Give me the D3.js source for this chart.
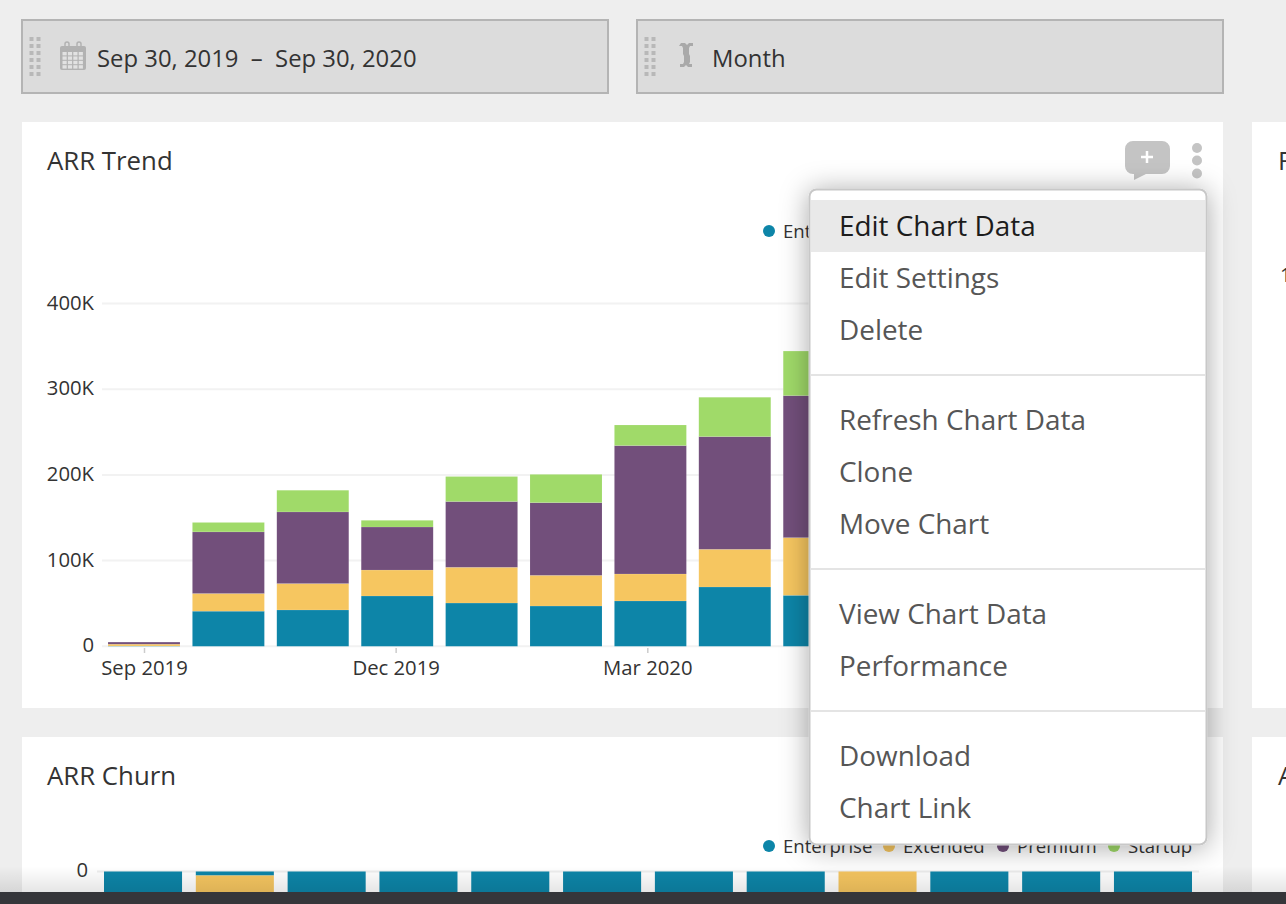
<!DOCTYPE html>
<html>
<head>
<meta charset="utf-8">
<script src="https://cdn.jsdelivr.net/npm/d3@7/dist/d3.min.js"></script>
<style>
html, body { margin: 0; padding: 0; background: #eeeeee; overflow: hidden; }
svg { display: block; }
text { font-family: "Open Sans", sans-serif; }
</style>
</head>
<body>
<script>
var width = 1286, height = 904;

// ARR Trend, values in thousands. Bars after May 2020 sit behind the open menu
var months = ["Sep 2019", "Oct 2019", "Nov 2019", "Dec 2019", "Jan 2020", "Feb 2020", "Mar 2020", "Apr 2020", "May 2020", "Jun 2020", "Jul 2020", "Aug 2020", "Sep 2020"];
var trendMonths = months.slice(0, 9);
var enterprise = [0.3, 41, 42.4, 58.7, 50.5, 47, 52.9, 69.2, 59.5];
var extended = [2.2, 20.6, 30.8, 30.3, 41.7, 35.8, 31.5, 44, 67.3];
var premium = [2.4, 71.9, 83.6, 50.2, 76.7, 84.8, 149.8, 131.5, 165.7];
var startup = [0, 11, 25.3, 7.8, 29.2, 33, 24, 45.9, 52];
var yTicks = [0, 100, 200, 300, 400];
var xTicks = ["Sep 2019", "Dec 2019", "Mar 2020"];

// ARR Churn, cut off by the bottom bar: only the top of each bar can be read
var churnMonths = months.slice(1);
var churnEnterprise = [-25, -4.7, -25, -25, -25, -25, -25, -25, 0, -25, -25, -25];
var churnExtended = [0, -20.3, 0, 0, 0, 0, 0, 0, -25, 0, 0, 0];

var seriesNames = ["Enterprise", "Extended", "Premium", "Startup"];
var seriesColors = ["#0d85a8", "#f6c660", "#724f7b", "#a0da69"];
var legendX = [769, 889, 1003, 1114];

var menuGroups = [
	["Edit Chart Data", "Edit Settings", "Delete"],
	["Refresh Chart Data", "Clone", "Move Chart"],
	["View Chart Data", "Performance"],
	["Download", "Chart Link"]
];
var menuGroupTop = [200, 394, 588, 730];
var menuLines = [375, 569, 711];

function fmtK(d) { return d === 0 ? "0" : d + "K"; }

var svg = d3.select("body")
	.append("svg")
	.attr("width", width)
	.attr("height", height);

var defs = svg.append("defs");
var shadow = defs.append("filter").attr("id", "menuShadow")
	.attr("x", "-20%").attr("y", "-20%").attr("width", "140%").attr("height", "140%");
shadow.append("feDropShadow")
	.attr("dx", 0).attr("dy", 2)
	.attr("stdDeviation", 14)
	.attr("flood-color", "#000")
	.attr("flood-opacity", 0.34);
var fade = defs.append("linearGradient").attr("id", "footFade")
	.attr("x1", 0).attr("y1", 0).attr("x2", 0).attr("y2", 1);
fade.append("stop").attr("offset", "0%").attr("stop-color", "#000").attr("stop-opacity", 0);
fade.append("stop").attr("offset", "100%").attr("stop-color", "#000").attr("stop-opacity", 0.1);

// page panels
svg.append("rect").attr("x", 22).attr("y", 122).attr("width", 1201).attr("height", 586).attr("fill", "#fff");
svg.append("rect").attr("x", 22).attr("y", 737).attr("width", 1201).attr("height", 167).attr("fill", "#fff");
svg.append("rect").attr("x", 1252).attr("y", 122).attr("width", 34).attr("height", 586).attr("fill", "#fff");
svg.append("rect").attr("x", 1252).attr("y", 737).attr("width", 34).attr("height", 167).attr("fill", "#fff");

// filter boxes
[[22, 586, "Sep 30, 2019  –  Sep 30, 2020", 97, 29.5], [637, 586, "Month", 712, 644.5]].forEach(function(b) {
	svg.append("rect")
		.attr("x", b[0]).attr("y", 20)
		.attr("width", b[1]).attr("height", 73)
		.attr("fill", "#dcdcdc")
		.attr("stroke", "#b4b4b4")
		.attr("stroke-width", 2);
	svg.append("text")
		.attr("x", b[3]).attr("y", 67)
		.attr("font-size", 23.85)
		.attr("fill", "#333")
		.attr("xml:space", "preserve")
		.style("white-space", "pre")
		.text(b[2]);
	d3.range(6).forEach(function(r) {
		d3.range(2).forEach(function(c) {
			svg.append("rect")
				.attr("x", b[4] + c * 7).attr("y", 37 + r * 7)
				.attr("width", 4).attr("height", 4)
				.attr("fill", "#b8b8b8");
		});
	});
});

// calendar icon
var cal = svg.append("g").attr("fill", "#b2b2b2");
cal.append("rect").attr("x", 60).attr("y", 46).attr("width", 26).attr("height", 24).attr("rx", 2);
cal.append("rect").attr("x", 65).attr("y", 42).attr("width", 4).attr("height", 8).attr("rx", 2).attr("fill", "none").attr("stroke", "#b2b2b2").attr("stroke-width", 1.5);
cal.append("rect").attr("x", 77).attr("y", 42).attr("width", 4).attr("height", 8).attr("rx", 2).attr("fill", "none").attr("stroke", "#b2b2b2").attr("stroke-width", 1.5);
d3.range(4).forEach(function(r) {
	d3.range(4).forEach(function(c) {
		cal.append("rect")
			.attr("x", 62.5 + c * 5.4).attr("y", 52 + r * 4.4)
			.attr("width", 4.2).attr("height", 3.4)
			.attr("fill", "#e2e2e2");
	});
});

// cursor icon
svg.append("path")
	.attr("d", "M681,43 h4 l2,2 l2,-2 h4 v3 h-3 l-1,2 v6 l1,2 v6 l-1,2 h3 v3 h-4 l-2,-2 l-2,2 h-4 v-3 h3 l1,-2 v-6 l-1,-2 v-6 l-1,-2 h-3 z")
	.attr("fill", "#a9a9a9");

// panel titles
svg.append("text").attr("x", 47).attr("y", 170).attr("font-size", 25.8).attr("fill", "#333").text("ARR Trend");
svg.append("text").attr("x", 47).attr("y", 785).attr("font-size", 25.8).attr("fill", "#333").text("ARR Churn");
svg.append("text").attr("x", 1278).attr("y", 170).attr("font-size", 25.8).attr("fill", "#333").text("F");
svg.append("text").attr("x", 1278).attr("y", 785).attr("font-size", 25.8).attr("fill", "#333").text("A");
svg.append("text").attr("x", 1280).attr("y", 282).attr("font-size", 20).attr("fill", "#333").text("1");

// comment button and kebab
svg.append("path")
	.attr("d", "M1133,141 h29 a8,8 0 0 1 8,8 v17 a8,8 0 0 1 -8,8 h-16 l-12,6 v-6 h-1 a8,8 0 0 1 -8,-8 v-17 a8,8 0 0 1 8,-8 z")
	.attr("fill", "#c4c4c4");
svg.append("path")
	.attr("d", "M1147,151 v12 M1141,157 h12")
	.attr("stroke", "#fff")
	.attr("stroke-width", 2.5);
svg.selectAll(".kebab")
	.data([148, 160.5, 173.5])
	.enter()
	.append("circle")
	.attr("class", "kebab")
	.attr("cx", 1197)
	.attr("cy", function(d) { return d; })
	.attr("r", 5)
	.attr("fill", "#c4c4c4");

// ARR Trend chart
var trendRows = trendMonths.map(function(m, i) {
	return { month: m, Enterprise: enterprise[i], Extended: extended[i], Premium: premium[i], Startup: startup[i] };
});
var x = d3.scaleBand()
	.domain(months)
	.range([108, 1192.8])
	.paddingInner(0.147)
	.paddingOuter(0);
var y = d3.scaleLinear()
	.domain([0, 400])
	.range([646.3, 303.5]);
var xTickScale = d3.scalePoint()
	.domain(xTicks)
	.range([144, 647.3]);

var grid = svg.append("g");
grid.selectAll("line")
	.data(yTicks)
	.enter()
	.append("line")
	.attr("x1", 102)
	.attr("x2", 1200)
	.attr("y1", function(d) { return y(d); })
	.attr("y2", function(d) { return y(d); })
	.attr("stroke", "#f2f2f2")
	.attr("stroke-width", 2);

var yAxis = svg.append("g")
	.attr("transform", "translate(94,-1)")
	.call(d3.axisLeft(y).tickValues(yTicks).tickFormat(fmtK).tickSize(0).tickPadding(0));
yAxis.select(".domain").remove();
yAxis.selectAll("text")
	.attr("font-family", "Open Sans")
	.attr("font-size", 20.3)
	.attr("fill", "#333");

var xAxis = svg.append("g")
	.attr("transform", "translate(0,648)")
	.call(d3.axisBottom(xTickScale).tickSize(5).tickPadding(8));
xAxis.select(".domain").remove();
xAxis.selectAll("line").attr("stroke", "#ccc").attr("stroke-width", 1.5);
xAxis.selectAll("text")
	.attr("font-family", "Open Sans")
	.attr("font-size", 20.3)
	.attr("fill", "#333");

var stacked = d3.stack().keys(seriesNames)(trendRows);
svg.append("g")
	.selectAll("g")
	.data(stacked)
	.enter()
	.append("g")
	.attr("fill", function(d, i) { return seriesColors[i]; })
	.selectAll("rect")
	.data(function(d) { return d; })
	.enter()
	.append("rect")
	.attr("x", function(d) { return x(d.data.month); })
	.attr("width", x.bandwidth())
	.attr("y", function(d) { return y(d[1]); })
	.attr("height", function(d) { return y(d[0]) - y(d[1]); })
	.attr("stroke", "#fff")
	.attr("stroke-opacity", 0.2)
	.attr("stroke-width", 0.5);

// ARR Churn chart
var churnX = d3.scaleBand()
	.domain(churnMonths)
	.range([104, 1192])
	.paddingInner(0.15)
	.paddingOuter(0);
var churnY = d3.scaleLinear()
	.domain([0, -100])
	.range([871.5, 957.2]);

svg.append("line")
	.attr("x1", 97).attr("x2", 1199)
	.attr("y1", churnY(0)).attr("y2", churnY(0))
	.attr("stroke", "#eeeeee")
	.attr("stroke-width", 2);

var churnAxis = svg.append("g")
	.attr("transform", "translate(88,-2)")
	.call(d3.axisLeft(churnY).tickValues([0]).tickFormat(fmtK).tickSize(0).tickPadding(0));
churnAxis.select(".domain").remove();
churnAxis.selectAll("text")
	.attr("font-family", "Open Sans")
	.attr("font-size", 20.3)
	.attr("fill", "#333");

svg.append("g")
	.selectAll("rect")
	.data(churnMonths)
	.enter()
	.append("rect")
	.attr("x", function(d) { return churnX(d); })
	.attr("width", churnX.bandwidth())
	.attr("y", churnY(0))
	.attr("height", function(d, i) { return churnY(churnEnterprise[i]) - churnY(0); })
	.attr("fill", seriesColors[0]);
svg.append("g")
	.selectAll("rect")
	.data(churnMonths)
	.enter()
	.append("rect")
	.attr("x", function(d) { return churnX(d); })
	.attr("width", churnX.bandwidth())
	.attr("y", function(d, i) { return churnY(churnEnterprise[i]); })
	.attr("height", function(d, i) { return churnY(churnEnterprise[i] + churnExtended[i]) - churnY(churnEnterprise[i]); })
	.attr("fill", seriesColors[1]);

// legends
[[231, 237.5], [846, 852.5]].forEach(function(l) {
	var leg = svg.append("g");
	leg.selectAll("circle")
		.data(seriesNames)
		.enter()
		.append("circle")
		.attr("cx", function(d, i) { return legendX[i]; })
		.attr("cy", l[0])
		.attr("r", 6)
		.attr("fill", function(d, i) { return seriesColors[i]; });
	leg.selectAll("text")
		.data(seriesNames)
		.enter()
		.append("text")
		.attr("x", function(d, i) { return legendX[i] + 14; })
		.attr("y", l[1])
		.attr("font-size", 18.6)
		.attr("fill", "#333")
		.text(function(d) { return d; });
});

// bottom bar with its soft shade
svg.append("rect").attr("x", 0).attr("y", 866).attr("width", width).attr("height", 26).attr("fill", "url(#footFade)");
svg.append("rect").attr("x", 0).attr("y", 892).attr("width", width).attr("height", 12).attr("fill", "#35363a");

// open menu, drawn over the chart
var menu = svg.append("g");
menu.append("rect")
	.attr("x", 809.5).attr("y", 189.5)
	.attr("width", 397).attr("height", 655)
	.attr("rx", 7)
	.attr("fill", "#fff")
	.attr("stroke", "#c8c8c8")
	.attr("stroke-width", 2)
	.attr("filter", "url(#menuShadow)");
menu.append("rect")
	.attr("x", 811).attr("y", 200)
	.attr("width", 394).attr("height", 52)
	.attr("fill", "#e9e9e9");
menu.selectAll("line")
	.data(menuLines)
	.enter()
	.append("line")
	.attr("x1", 811).attr("x2", 1205)
	.attr("y1", function(d) { return d; })
	.attr("y2", function(d) { return d; })
	.attr("stroke", "#e4e4e4")
	.attr("stroke-width", 2);
menuGroups.forEach(function(items, g) {
	menu.selectAll(".item" + g)
		.data(items)
		.enter()
		.append("text")
		.attr("class", "item" + g)
		.attr("x", 839)
		.attr("y", function(d, i) { return menuGroupTop[g] + 36 + i * 52; })
		.attr("font-size", 27.9)
		.attr("fill", function(d) { return d === "Edit Chart Data" ? "#1c1c1c" : "#565656"; })
		.text(function(d) { return d; });
});
</script>
</body>
</html>
